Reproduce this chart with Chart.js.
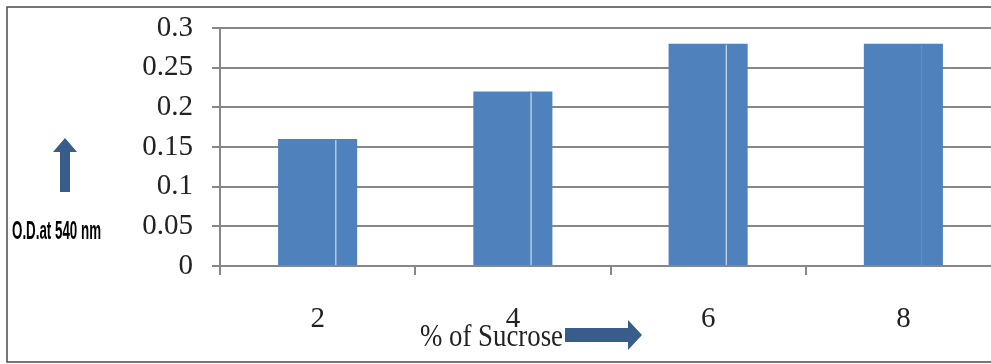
<!DOCTYPE html>
<html>
<head>
<meta charset="utf-8">
<script src="https://cdn.jsdelivr.net/npm/chart.js@4/dist/chart.umd.min.js"></script>
<style>
  html, body { margin: 0; padding: 0; background: #fff; overflow: hidden; }
  #wrap { width: 991px; height: 364px; overflow: hidden; position: relative; }
  canvas { display: block; }
</style>
</head>
<body>
<div id="wrap"><canvas id="myChart" width="1010" height="364"></canvas></div>
<script>
'use strict';
// data
var sucroseLabels = ['2', '4', '6', '8'];
var odValues = [0.16, 0.22, 0.28, 0.28];
var yTicks = [0, 0.05, 0.1, 0.15, 0.2, 0.25, 0.3];

var xTitle = '% of Sucrose';
var yTitle = 'O.D.at 540 nm';

var gridGrey = '#878787';
var barBlue = '#4f81bd';
var arrowBlue = '#385d8a';

// draws the frame, the arrows, axis titles and the seam seen inside the bars
var extras = {
  id: 'extras',
  afterDatasetsDraw: function(chart) {
    var c = chart.ctx;
    var meta = chart.getDatasetMeta(0);
    c.save();
    meta.data.forEach(function(bar, i) {
      var w = bar.width;
      var x = bar.x - w / 2 + w * 0.73;
      c.strokeStyle = i < 3 ? 'rgba(230,236,246,0.85)' : 'rgba(120,160,210,0.5)';
      c.lineWidth = 1.2;
      c.beginPath();
      c.moveTo(x, bar.y + 1);
      c.lineTo(x, bar.base);
      c.stroke();
    });
    c.restore();
  },
  afterDraw: function(chart) {
    var c = chart.ctx;
    c.save();
    // outer frame
    c.strokeStyle = '#4a4a4a';
    c.lineWidth = 1.5;
    c.beginPath();
    c.moveTo(chart.width, 7);
    c.lineTo(7, 7);
    c.lineTo(7, 362);
    c.lineTo(chart.width, 362);
    c.stroke();

    // up arrow
    c.fillStyle = arrowBlue;
    c.beginPath();
    c.moveTo(65, 138);
    c.lineTo(77, 152);
    c.lineTo(70, 152);
    c.lineTo(70, 192);
    c.lineTo(60, 192);
    c.lineTo(60, 152);
    c.lineTo(53, 152);
    c.closePath();
    c.fill();

    // right arrow
    c.beginPath();
    c.moveTo(642, 335);
    c.lineTo(628, 320);
    c.lineTo(628, 328);
    c.lineTo(565, 328);
    c.lineTo(565, 342);
    c.lineTo(628, 342);
    c.lineTo(628, 350);
    c.closePath();
    c.fill();

    // y title, condensed
    c.fillStyle = '#000';
    c.font = 'bold 25px "Liberation Sans Narrow", "Liberation Sans", sans-serif';
    c.textBaseline = 'middle';
    c.textAlign = 'left';
    var tw = c.measureText(yTitle).width;
    c.save();
    c.translate(12, 232);
    c.scale(89 / tw, 1);
    c.fillText(yTitle, 0, 0);
    c.restore();

    // x title
    c.font = '31px "Liberation Serif", "Times New Roman", serif';
    c.fillStyle = '#222';
    tw = c.measureText(xTitle).width;
    c.save();
    c.translate(420, 338);
    c.scale(143 / tw, 1);
    c.fillText(xTitle, 0, 0);
    c.restore();
    c.restore();
  }
};

var ctx = document.getElementById('myChart');
var myChart = new Chart(ctx, {
  type: 'bar',
  data: {
    labels: sucroseLabels,
    datasets: [{
      label: 'O.D. at 540 nm',
      data: odValues,
      backgroundColor: barBlue,
      borderWidth: 0,
      barPercentage: 0.405,
      categoryPercentage: 1
    }]
  },
  options: {
    responsive: false,
    animation: false,
    layout: { padding: { top: 28, right: 9, bottom: 0, left: 0 } },
    plugins: {
      legend: { display: false },
      tooltip: { enabled: false }
    },
    scales: {
      x: {
        offset: true,
        grid: {
          offset: true,
          drawOnChartArea: false,
          drawTicks: true,
          tickLength: 9,
          color: gridGrey,
          lineWidth: 2
        },
        border: { display: true, color: gridGrey, width: 2 },
        ticks: {
          color: '#222',
          padding: 27,
          maxRotation: 0,
          font: { family: '"Liberation Serif", "Times New Roman", serif', size: 29 }
        },
        afterFit: function(scale) { scale.height = 98; }
      },
      y: {
        min: 0,
        max: 0.3,
        afterBuildTicks: function(scale) {
          scale.ticks = yTicks.map(function(v) { return { value: v }; });
        },
        grid: {
          color: gridGrey,
          lineWidth: 2,
          tickLength: 8
        },
        border: { display: true, color: gridGrey, width: 2 },
        ticks: {
          color: '#222',
          padding: 19,
          callback: function(v) { return String(Math.round(v * 100) / 100); },
          font: { family: '"Liberation Serif", "Times New Roman", serif', size: 29 }
        },
        afterFit: function(scale) {
          scale.width = 220;
          scale.paddingTop = 0;
          scale.paddingBottom = 0;
        }
      }
    }
  },
  plugins: [extras]
});
</script>
</body>
</html>
